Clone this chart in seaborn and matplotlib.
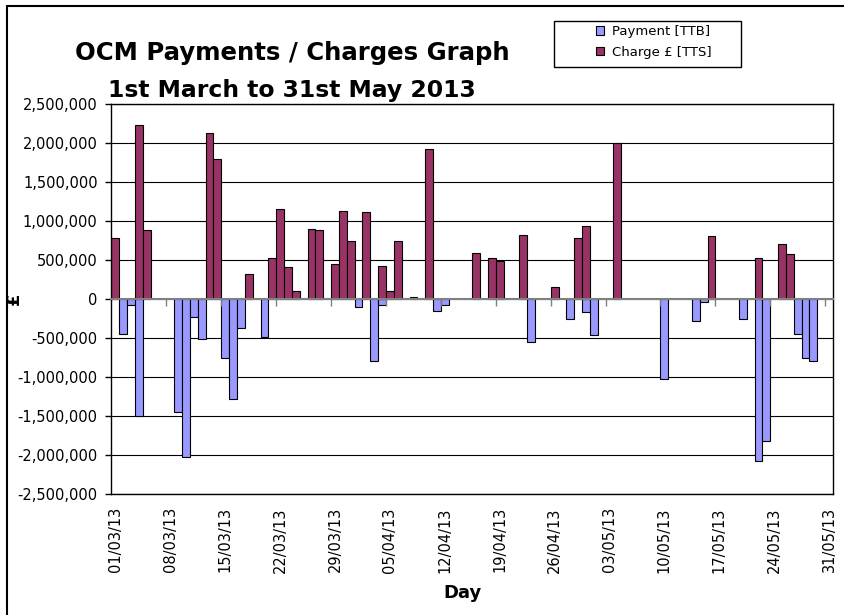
import numpy as np
import pandas as pd
import seaborn as sns
import matplotlib.pyplot as plt
from matplotlib.patches import Patch, Rectangle
from matplotlib.ticker import FuncFormatter, MultipleLocator

# 92 days, 01/03/13 .. 31/05/13
days = pd.date_range("2013-03-01", "2013-05-31", freq="D").strftime("%d/%m/%y").tolist()

pay_label = "Payment [TTB]"
charge_label = "Charge £ [TTS]"

# one row per week, 0 = nothing on that day
payment = [
    0, -450000, -80000, -1500000, 0, 0, 0,
    0, -1445000, -2025000, -225000, -515000, 0, 0,
    -755000, -1280000, -370000, 0, 0, -490000, 0,
    0, 0, 0, 0, 0, 0, 0,
    0, 0, 0, -105000, 0, -800000, -75000,
    0, 0, 0, 0, 0, 0, -150000,
    -75000, 0, 0, 0, 0, 0, 0,
    0, 0, 0, 0, -555000, 0, 0,
    0, 0, -255000, 0, -165000, -460000, 0,
    0, 0, 0, 0, 0, 0, 0,
    -1030000, 0, 0, 0, -280000, -35000, 0,
    0, 0, 0, -250000, 0, -2080000, -1820000,
    0, 0, 0, -450000, -750000, -795000, 0,
    0,
]

charge = [
    780000, 0, 0, 2230000, 880000, 0, 0,
    0, 0, 0, 0, 0, 2125000, 1800000,
    0, 0, 0, 315000, 0, 0, 520000,
    1160000, 415000, 100000, 0, 895000, 880000, 0,
    455000, 1125000, 740000, 0, 1115000, 0, 420000,
    100000, 750000, 0, 20000, 0, 1920000, 0,
    0, 0, 0, 0, 585000, 0, 520000,
    485000, 0, 0, 815000, 0, 0, 0,
    160000, 0, 0, 780000, 935000, 0, 0,
    0, 2005000, 0, 0, 0, 0, 0,
    0, 0, 0, 0, 0, 0, 810000,
    0, 0, 0, 0, 0, 520000, 0,
    0, 700000, 575000, 0, 0, 0, 0,
    0,
]

blue = "#9999FF"
maroon = "#993366"

rows = [(d, v, pay_label) for d, v in zip(days, payment) if v]
rows += [(d, v, charge_label) for d, v in zip(days, charge) if v]
df = pd.DataFrame(rows, columns=["day", "amount", "series"])

sns.set_theme(style="white")
plt.rcParams["font.family"] = ["DejaVu Sans"]
plt.rcParams.update({"text.color": "black", "axes.labelcolor": "black",
                     "xtick.color": "black", "ytick.color": "black"})

fig = plt.figure(figsize=(8.44, 6.15), dpi=100)
ax = fig.add_axes([111.5 / 844, 1 - 494 / 615, 721.5 / 844, 390 / 615])

sns.barplot(data=df, x="day", y="amount", hue="series", order=days,
            hue_order=[pay_label, charge_label], palette=[blue, maroon],
            saturation=1, dodge=False, width=1, errorbar=None,
            edgecolor="black", linewidth=0.8, legend=False, ax=ax)

ax.set_xlim(-0.5, len(days) - 0.5)
ax.set_ylim(-2500000, 2500000)
ax.yaxis.set_major_locator(MultipleLocator(500000))
ax.yaxis.set_major_formatter(FuncFormatter(lambda v, p: f"{int(round(v)):,}"))
ax.yaxis.grid(True, color="black", lw=0.8)
ax.set_axisbelow(True)
for s in ax.spines.values():
    s.set_color("black")
    s.set_linewidth(1)

ax.set_xticks(range(0, len(days), 7))
ax.set_xticklabels(days[::7], rotation=90)
ax.tick_params(axis="x", length=0, pad=9.5, labelsize=10.5, colors="black")
ax.tick_params(axis="y", direction="out", length=4, width=1, pad=6,
               labelsize=10.5, colors="black", left=True)

# zero line with week tick marks
sec = ax.secondary_xaxis(0, transform=ax.transData)
sec.set_xticks(np.arange(6.5, len(days), 7))
sec.tick_params(axis="x", labelbottom=False, color="#808080", length=5,
                width=1, direction="out")
sec.spines["bottom"].set_color("#808080")
sec.spines["bottom"].set_linewidth(1.5)
sec.set_zorder(3)

ax.set_xlabel("Day", fontsize=13, fontweight="bold")
ax.xaxis.set_label_coords(0.4865, -0.232)
ax.set_ylabel("£", fontsize=13, fontweight="bold")
ax.yaxis.set_label_coords(-0.123, 0.5)

fig.text(75 / 844, 1 - 60 / 615, "OCM Payments / Charges Graph",
         fontsize=17.6, fontweight="bold", ha="left", va="baseline")
fig.text(108 / 844, 1 - 97.3 / 615, "1st March to 31st May 2013",
         fontsize=16.9, fontweight="bold", ha="left", va="baseline")

handles = [Patch(facecolor=blue, edgecolor="black", lw=0.8, label=pay_label),
           Patch(facecolor=maroon, edgecolor="black", lw=0.8, label=charge_label)]
ax.legend(handles=handles, loc="upper left", frameon=False, fontsize=9.5,
          bbox_to_anchor=(596 / 844, 1 - 25 / 615), bbox_transform=fig.transFigure,
          borderpad=0, borderaxespad=0, handlelength=0.6, handleheight=0.6,
          handletextpad=0.6, labelspacing=0.6)
fig.add_artist(Rectangle((554 / 844, 1 - 67 / 615), 187 / 844, 46 / 615,
                         transform=fig.transFigure, fill=False, lw=1, ec="black"))

# outer chart frame
fig.add_artist(Rectangle((7 / 844, -0.05), 1.0, 1.05 - 6 / 615,
                         transform=fig.transFigure, fill=False, lw=1.5, ec="black"))

fig.savefig("out.png", dpi=100)
